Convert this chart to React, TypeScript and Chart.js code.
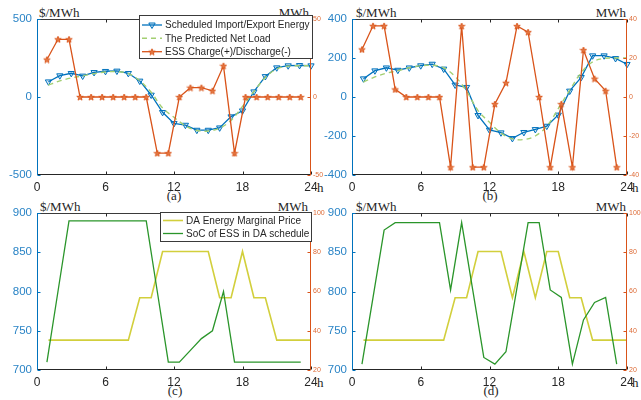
import React, { useEffect, useRef } from "react";
import { Chart, registerables } from "chart.js";

Chart.register(...registerables);

// ---------- data ----------
const hours = [1, 2, 3, 4, 5, 6, 7, 8, 9, 10, 11, 12, 13, 14, 15, 16, 17, 18, 19, 20, 21, 22, 23, 24];
const xTickValues = [0, 6, 12, 18, 24];

// panel (a)
const scheduledA = [98, 137, 152, 135, 158, 165, 167, 152, 103, 13, -98, -169, -180, -212, -212, -197, -126, -88, 34, 132, 188, 201, 203, 201];
const predictedNetLoad = [77, 103, 122, 135, 150, 160, 163, 150, 105, 30, -70, -130, -185, -215, -218, -200, -150, -60, 35, 125, 180, 198, 200, 200];
const essA = [24, 37, 37, 0, 0, 0, 0, 0, 0, 0, -36, -36, 0, 6, 6, 4, 20, -36, 0, 0, 0, 0, 0, 0];
const yTicksA = [-500, 0, 500];
const y2TicksA = [-50, 0, 50];

// panel (b)
const scheduledB = [94, 135, 150, 138, 150, 161, 169, 144, 62, 50, -94, -169, -183, -212, -181, -166, -149, -92, 31, 101, 212, 212, 198, 168];
const essB = [24.4, 36.5, 36.5, 3.9, 0, 0, 0, 0, -36, 36.4, -36, -36, -3.6, 7.3, 36.4, 33.3, 0, -36, -3.6, -36, 24.1, 9.4, 3.2, -36];
const yTicksB = [-400, -200, 0, 200, 400];
const y2TicksB = [-40, -20, 0, 20, 40];

// panel (c)
const priceC = [738, 738, 738, 738, 738, 738, 738, 738, 792, 792, 851, 851, 851, 851, 851, 792, 792, 851, 792, 792, 738, 738, 738, 738];
const socC = [24, 60, 96, 96, 96, 96, 96, 96, 96, 96, 60, 24, 24, 30, 36, 40, 60, 24, 24, 24, 24, 24, 24, 24];

// panel (d)
const priceD = [738, 738, 738, 738, 738, 738, 738, 738, 792, 792, 851, 851, 851, 792, 851, 792, 851, 851, 792, 792, 738, 738, 738, 738];
const socD = [23, 57, 91.3, 95.1, 95.1, 95.1, 95.1, 95.1, 60.8, 95.1, 60.8, 26.4, 23, 29.3, 62, 95.1, 95.1, 60.8, 57, 23, 45.5, 54.4, 57, 23];
const yTicksCD = [700, 750, 800, 850, 900];
const y2TicksCD = [20, 40, 60, 80, 100];

// ---------- style ----------
const BLUE = "#0072BD";
const ORANGE = "#D95319";
const GREEN_DASH = "#a3cf72";
const YELLOW = "#d2cf3c";
const GREEN = "#2a952a";
const AXIS = "#262626";
const SANS = "'Liberation Sans', Arial, sans-serif";
const SERIF = "'Liberation Serif', 'Times New Roman', serif";

function makeStar(size: number) {
  const c = document.createElement("canvas");
  c.width = size;
  c.height = size;
  const g = c.getContext("2d")!;
  const cx = size / 2, cy = size / 2 + 0.4;
  const R = size / 2 - 0.6, r = R * 0.42;
  g.beginPath();
  for (let i = 0; i < 10; i++) {
    const a = -Math.PI / 2 + (i * Math.PI) / 5;
    const rad = i % 2 === 0 ? R : r;
    g.lineTo(cx + rad * Math.cos(a), cy + rad * Math.sin(a));
  }
  g.closePath();
  g.fillStyle = "#e57a45";
  g.fill();
  g.strokeStyle = ORANGE;
  g.lineWidth = 0.9;
  g.stroke();
  return c;
}

const pts = (arr: number[]) => hours.map((h, i) => ({ x: h, y: arr[i] }));

const framePlugin = {
  id: "frame",
  afterDatasetsDraw(chart: any) {
    const { ctx, chartArea } = chart;
    const { left, right, top, bottom } = chartArea;
    const L = Math.round(left) + 0.5, R = Math.round(right) - 0.5;
    const T = Math.round(top) + 0.5, B = Math.round(bottom) - 0.5;
    const seg = (x0: number, y0: number, x1: number, y1: number, c: string) => {
      ctx.strokeStyle = c;
      ctx.beginPath();
      ctx.moveTo(x0, y0);
      ctx.lineTo(x1, y1);
      ctx.stroke();
    };
    ctx.save();
    ctx.lineWidth = 1;
    seg(L, T, R, T, "#3a3a3a");
    seg(L, B, R, B, AXIS);
    const xs = chart.scales.x;
    xTickValues.forEach((v) => {
      const p = Math.round(xs.getPixelForValue(v)) + 0.5;
      seg(p, B, p, B - 3, AXIS);
      seg(p, T, p, T + 3, AXIS);
    });
    const yl = chart.scales.y;
    yl.ticks.forEach((t: any) => {
      const p = Math.round(yl.getPixelForValue(t.value)) + 0.5;
      seg(L, p, L + 3, p, BLUE);
    });
    const yr = chart.scales.y2;
    yr.ticks.forEach((t: any) => {
      const p = Math.round(yr.getPixelForValue(t.value)) + 0.5;
      seg(R, p, R - 3, p, ORANGE);
    });
    seg(L, T - 0.5, L, B + 0.5, BLUE);
    seg(R, T - 0.5, R, B + 0.5, ORANGE);
    ctx.restore();
  },
};

const boxLegendPlugin = {
  id: "boxLegend",
  afterDraw(chart: any, _args: any, o: any) {
    if (!o || !o.items) return;
    const ctx = chart.ctx;
    ctx.save();
    ctx.fillStyle = "#ffffff";
    ctx.fillRect(o.x, o.y, o.w, o.h);
    ctx.strokeStyle = "#3a3a3a";
    ctx.lineWidth = 1;
    ctx.strokeRect(o.x + 0.5, o.y + 0.5, o.w, o.h);
    o.items.forEach((it: any, i: number) => {
      const y = o.rowY[i];
      ctx.strokeStyle = it.color;
      ctx.lineWidth = it.width;
      ctx.setLineDash(it.dash || []);
      ctx.beginPath();
      ctx.moveTo(o.x0, y);
      ctx.lineTo(o.x1, y);
      ctx.stroke();
      ctx.setLineDash([]);
      const mx = (o.x0 + o.x1) / 2;
      if (it.marker === "tri") {
        ctx.lineWidth = 1;
        ctx.strokeStyle = BLUE;
        ctx.fillStyle = "rgba(0,114,189,0.15)";
        ctx.beginPath();
        ctx.moveTo(mx - 3.2, y - 2);
        ctx.lineTo(mx + 3.2, y - 2);
        ctx.lineTo(mx, y + 3.5);
        ctx.closePath();
        ctx.fill();
        ctx.stroke();
      } else if (it.marker === "star") {
        const s = it.star;
        ctx.drawImage(s, mx - s.width / 2, y - s.height / 2);
      }
      ctx.fillStyle = AXIS;
      ctx.font = `10px ${SANS}`;
      ctx.textBaseline = "middle";
      ctx.textAlign = "left";
      ctx.fillText(it.label, o.textX, y + 0.5);
    });
    ctx.restore();
  },
};

type PanelSpec = {
  w: number;
  h: number;
  plot: { l: number; r: number; t: number; b: number };
  yMin: number;
  yMax: number;
  yTicks: number[];
  y2Min: number;
  y2Max: number;
  y2Ticks: number[];
  datasets: any[];
  legend?: any;
};

function makeConfig(p: PanelSpec): any {
  const hideGrid = { display: false, drawTicks: false };
  return {
    type: "line",
    data: { datasets: p.datasets },
    options: {
      responsive: false,
      animation: false,
      events: [],
      layout: { padding: { top: p.plot.t, left: 0, right: 0, bottom: 0 } },
      plugins: {
        legend: { display: false },
        tooltip: { enabled: false },
        boxLegend: p.legend || {},
      },
      scales: {
        x: {
          type: "linear",
          position: "bottom",
          min: 0,
          max: 24,
          afterBuildTicks: (s: any) => {
            s.ticks = xTickValues.map((v) => ({ value: v }));
          },
          ticks: { color: AXIS, font: { family: SANS, size: 12 }, padding: 5, maxRotation: 0, autoSkip: false },
          grid: hideGrid,
          border: { display: false },
          afterFit: (s: any) => {
            s.height = p.h - p.plot.b;
          },
        },
        x2: { type: "linear", display: false, min: 0.1, max: 24.93 },
        y: {
          position: "left",
          min: p.yMin,
          max: p.yMax,
          afterBuildTicks: (s: any) => {
            s.ticks = p.yTicks.map((v) => ({ value: v }));
          },
          ticks: { color: "#2a84c6", font: { family: SANS, size: 11.5 }, padding: 5 },
          grid: hideGrid,
          border: { display: false },
          afterFit: (s: any) => {
            s.width = p.plot.l;
          },
        },
        y2: {
          position: "right",
          min: p.y2Min,
          max: p.y2Max,
          afterBuildTicks: (s: any) => {
            s.ticks = p.y2Ticks.map((v) => ({ value: v }));
          },
          ticks: { color: "#dd6a35", font: { family: SANS, size: 7 }, padding: 2 },
          grid: hideGrid,
          border: { display: false },
          afterFit: (s: any) => {
            s.width = p.w - p.plot.r;
          },
        },
      },
    },
    plugins: [framePlugin, boxLegendPlugin],
  };
}

function topDatasets(sched: number[], ess: number[], star: HTMLCanvasElement) {
  return [
    {
      label: "ESS Charge(+)/Discharge(-)",
      data: pts(ess),
      xAxisID: "x2",
      yAxisID: "y2",
      borderColor: ORANGE,
      borderWidth: 1.3,
      pointStyle: star,
      pointRadius: 4,
      tension: 0,
      clip: false,
      order: 0,
    },
    {
      label: "The Predicted Net Load",
      data: pts(predictedNetLoad),
      xAxisID: "x",
      yAxisID: "y",
      borderColor: GREEN_DASH,
      borderWidth: 1.4,
      borderDash: [5, 4],
      pointRadius: 0,
      tension: 0.35,
      clip: false,
      order: 1,
    },
    {
      label: "Scheduled Import/Export Energy",
      data: pts(sched),
      xAxisID: "x",
      yAxisID: "y",
      borderColor: BLUE,
      borderWidth: 1.3,
      pointStyle: "triangle",
      rotation: 180,
      pointRadius: 3.6,
      pointBorderWidth: 1,
      pointBorderColor: BLUE,
      pointBackgroundColor: "rgba(0,114,189,0.15)",
      tension: 0,
      clip: false,
      order: 2,
    },
  ];
}

function bottomDatasets(price: number[], soc: number[]) {
  return [
    {
      label: "SoC of ESS in DA schedule",
      data: pts(soc),
      xAxisID: "x2",
      yAxisID: "y2",
      borderColor: GREEN,
      borderWidth: 1.3,
      pointRadius: 0,
      tension: 0,
      clip: false,
      order: 0,
    },
    {
      label: "DA Energy Marginal Price",
      data: pts(price),
      xAxisID: "x",
      yAxisID: "y",
      borderColor: YELLOW,
      borderWidth: 1.6,
      pointRadius: 0,
      tension: 0,
      clip: false,
      order: 1,
    },
  ];
}

function ChartCanvas(props: { left: number; top: number; w: number; h: number; build: () => any }) {
  const ref = useRef<HTMLCanvasElement>(null);
  useEffect(() => {
    const chart = new Chart(ref.current!, props.build());
    return () => chart.destroy();
  }, []);
  return (
    <canvas
      ref={ref}
      width={props.w}
      height={props.h}
      style={{ position: "absolute", left: props.left, top: props.top, width: props.w, height: props.h, zIndex: 1 }}
    />
  );
}

function Txt(props: { x: number; top: number; align?: "left" | "right" | "center"; children: React.ReactNode }) {
  const base: React.CSSProperties = {
    position: "absolute",
    top: props.top,
    fontFamily: SERIF,
    fontSize: 13,
    lineHeight: "13px",
    color: AXIS,
    whiteSpace: "nowrap",
    zIndex: 0,
  };
  if (props.align === "right") return <div style={{ ...base, right: 641 - props.x }}>{props.children}</div>;
  if (props.align === "center")
    return <div style={{ ...base, left: props.x, transform: "translateX(-50%)" }}>{props.children}</div>;
  return <div style={{ ...base, left: props.x }}>{props.children}</div>;
}

export default function App() {
  const buildA = () => {
    const star = makeStar(8);
    return makeConfig({
      w: 340,
      h: 200,
      plot: { l: 37, r: 311, t: 19, b: 175 },
      yMin: -500,
      yMax: 500,
      yTicks: yTicksA,
      y2Min: -50,
      y2Max: 50,
      y2Ticks: y2TicksA,
      datasets: topDatasets(scheduledA, essA, star),
      legend: {
        x: 139,
        y: 15,
        w: 173,
        h: 43,
        x0: 142,
        x1: 162,
        textX: 165,
        rowY: [25, 38.3, 51.7],
        items: [
          { label: "Scheduled Import/Export Energy", color: BLUE, width: 1.3, marker: "tri" },
          { label: "The Predicted Net Load", color: GREEN_DASH, width: 1.4, dash: [5, 4] },
          { label: "ESS Charge(+)/Discharge(-)", color: ORANGE, width: 1.3, marker: "star", star },
        ],
      },
    });
  };
  const buildB = () => {
    const star = makeStar(8);
    return makeConfig({
      w: 325,
      h: 200,
      plot: { l: 36, r: 311, t: 19, b: 175 },
      yMin: -400,
      yMax: 400,
      yTicks: yTicksB,
      y2Min: -40,
      y2Max: 40,
      y2Ticks: y2TicksB,
      datasets: topDatasets(scheduledB, essB, star),
    });
  };
  const buildC = () =>
    makeConfig({
      w: 340,
      h: 205,
      plot: { l: 37, r: 311, t: 18, b: 175 },
      yMin: 700,
      yMax: 900,
      yTicks: yTicksCD,
      y2Min: 20,
      y2Max: 100,
      y2Ticks: y2TicksCD,
      datasets: bottomDatasets(priceC, socC),
      legend: {
        x: 160,
        y: 17,
        w: 151,
        h: 29,
        x0: 163,
        x1: 183,
        textX: 186,
        rowY: [25.5, 38.5],
        items: [
          { label: "DA Energy Marginal Price", color: YELLOW, width: 1.6 },
          { label: "SoC of ESS in DA schedule", color: GREEN, width: 1.3 },
        ],
      },
    });
  const buildD = () =>
    makeConfig({
      w: 325,
      h: 205,
      plot: { l: 36, r: 311, t: 18, b: 175 },
      yMin: 700,
      yMax: 900,
      yTicks: yTicksCD,
      y2Min: 20,
      y2Max: 100,
      y2Ticks: y2TicksCD,
      datasets: bottomDatasets(priceD, socD),
    });

  return (
    <div style={{ position: "absolute", left: 0, top: 0, width: 641, height: 400, background: "#ffffff", overflow: "hidden" }}>
      <Txt x={39} top={6}>$/MWh</Txt>
      <Txt x={309} top={6} align="right">MWh</Txt>
      <Txt x={356} top={6}>$/MWh</Txt>
      <Txt x={626} top={6} align="right">MWh</Txt>
      <Txt x={40} top={200}>$/MWh</Txt>
      <Txt x={308} top={200} align="right">MWh</Txt>
      <Txt x={356} top={200}>$/MWh</Txt>
      <Txt x={626} top={200} align="right">MWh</Txt>
      <Txt x={174} top={189} align="center">(a)</Txt>
      <Txt x={490} top={189} align="center">(b)</Txt>
      <Txt x={175} top={384} align="center">(c)</Txt>
      <Txt x={491} top={384} align="center">(d)</Txt>
      <Txt x={317} top={181}>h</Txt>
      <Txt x={632} top={181}>h</Txt>
      <Txt x={317} top={376}>h</Txt>
      <Txt x={632} top={376}>h</Txt>
      <ChartCanvas left={0} top={0} w={340} h={200} build={buildA} />
      <ChartCanvas left={316} top={0} w={325} h={200} build={buildB} />
      <ChartCanvas left={0} top={195} w={340} h={205} build={buildC} />
      <ChartCanvas left={316} top={195} w={325} h={205} build={buildD} />
    </div>
  );
}
